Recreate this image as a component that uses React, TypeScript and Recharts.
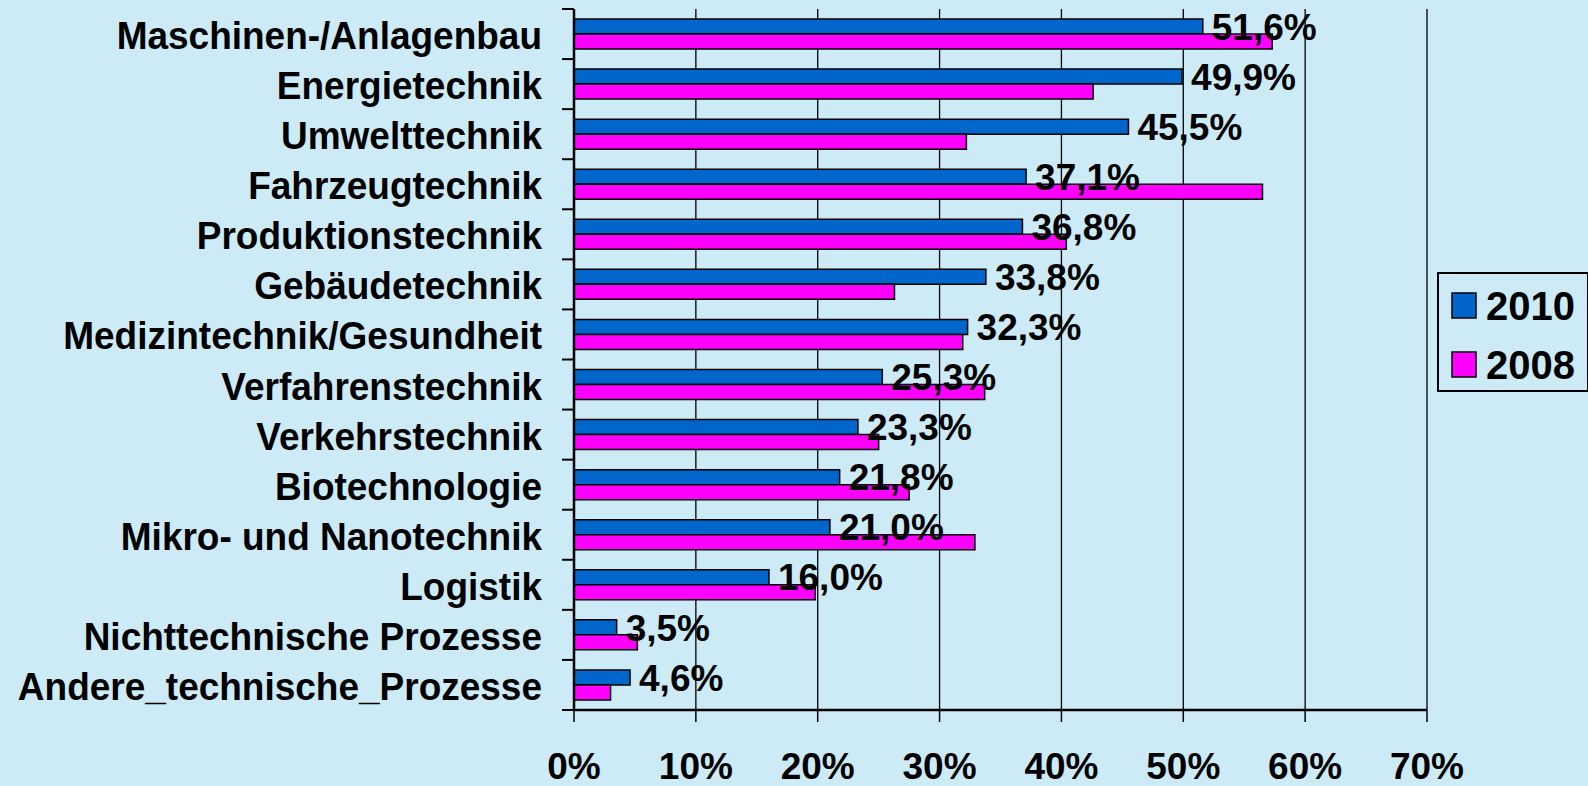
import React from 'react';
import { BarChart, Bar, XAxis, YAxis, CartesianGrid, LabelList } from 'recharts';

const categories = [
  'Maschinen-/Anlagenbau',
  'Energietechnik',
  'Umwelttechnik',
  'Fahrzeugtechnik',
  'Produktionstechnik',
  'Gebäudetechnik',
  'Medizintechnik/Gesundheit',
  'Verfahrenstechnik',
  'Verkehrstechnik',
  'Biotechnologie',
  'Mikro- und Nanotechnik',
  'Logistik',
  'Nichttechnische Prozesse',
  'Andere_technische_Prozesse',
];
const values2010 = [51.6, 49.9, 45.5, 37.1, 36.8, 33.8, 32.3, 25.3, 23.3, 21.8, 21.0, 16.0, 3.5, 4.6];
const values2008 = [57.3, 42.6, 32.2, 56.5, 40.4, 26.3, 31.9, 33.7, 25.0, 27.5, 32.9, 19.8, 5.2, 3.0];
const xTicks = [0, 10, 20, 30, 40, 50, 60, 70];
const seriesNames = ['2010', '2008'];
const seriesColors = ['#0066CC', '#FF00FF'];

const data = categories.map((name, i) => ({ name, v2010: values2010[i], v2008: values2008[i] }));

const W = 1588;
const H = 786;
const M_TOP = 9;
const X_AXIS_H = 76;
const Y_AXIS_W = 574;
const PLOT_H = H - M_TOP - X_AXIS_H;
const BAND = PLOT_H / categories.length;
const TICK_GAP = 32;
const FONT = '"Liberation Sans", Arial, sans-serif';
const BG = '#CCEBF6';

const YTick = (props: any) => {
  const { x, y, payload, index } = props;
  const axisX = x + TICK_GAP;
  const isLast = index === categories.length - 1;
  return (
    <g>
      <line x1={axisX - 12} x2={axisX} y1={y - BAND / 2} y2={y - BAND / 2} stroke="#000" strokeWidth={2} />
      {isLast && (
        <line x1={axisX - 12} x2={axisX} y1={y + BAND / 2} y2={y + BAND / 2} stroke="#000" strokeWidth={2} />
      )}
      <text
        x={x}
        y={y}
        dy={14}
        textAnchor="end"
        fontFamily={FONT}
        fontWeight="bold"
        fontSize={37}
        fill="#000"
        transform={`translate(0 ${y}) scale(1 1.07) translate(0 ${-y})`}
      >
        {payload.value}
      </text>
    </g>
  );
};

const LegendBox = () => (
  <svg width={152} height={120} style={{ display: 'block' }}>
    <rect x={1} y={1} width={150} height={118} fill={BG} stroke="#000" strokeWidth={2} />
    {seriesNames.map((label, i) => (
      <g key={label}>
        <rect x={15} y={21 + i * 59} width={24} height={25} fill={seriesColors[i]} stroke="#000" strokeWidth={1.5} />
        <text x={49} y={48 + i * 59} fontFamily={FONT} fontWeight="bold" fontSize={40} fill="#000">
          {label}
        </text>
      </g>
    ))}
  </svg>
);

export default function App() {
  if (typeof document !== 'undefined') {
    document.body.style.margin = '0';
  }
  return (
    <div style={{ position: 'fixed', left: 0, top: 0, width: W, height: H, background: BG }}>
      <BarChart
        width={W}
        height={H}
        data={data}
        layout="vertical"
        margin={{ top: M_TOP, right: W - 1427, bottom: 0, left: 0 }}
        barCategoryGap="20%"
        barGap={0}
      >
        <CartesianGrid horizontal={false} vertical={true} stroke="#000" strokeWidth={1.3} />
        <XAxis
          type="number"
          domain={[0, 70]}
          ticks={xTicks}
          interval={0}
          height={X_AXIS_H}
          tickFormatter={(v: number) => `${v}%`}
          tickSize={12}
          tickMargin={31}
          axisLine={{ stroke: '#000', strokeWidth: 2.5 }}
          tickLine={{ stroke: '#000', strokeWidth: 1.5 }}
          tick={{ fill: '#000', fontFamily: FONT, fontWeight: 'bold', fontSize: 37 }}
        />
        <XAxis
          xAxisId="top"
          orientation="top"
          type="number"
          domain={[0, 70]}
          height={0}
          tick={false}
          tickLine={false}
          axisLine={{ stroke: '#000', strokeWidth: 2 }}
        />
        <YAxis
          type="category"
          dataKey="name"
          width={Y_AXIS_W}
          interval={0}
          tickSize={0}
          tickMargin={TICK_GAP}
          tickLine={false}
          axisLine={{ stroke: '#000', strokeWidth: 2.5 }}
          tick={<YTick />}
        />
        <Bar dataKey="v2010" name={seriesNames[0]} fill={seriesColors[0]} stroke="#000" strokeWidth={1.5} isAnimationActive={false}>
          <LabelList
            dataKey="v2010"
            position="right"
            offset={9}
            formatter={(v: any) => `${Number(v).toFixed(1).replace('.', ',')}%`}
            style={{ fill: '#000', fontFamily: FONT, fontWeight: 'bold', fontSize: 37 }}
          />
        </Bar>
        <Bar dataKey="v2008" name={seriesNames[1]} fill={seriesColors[1]} stroke="#000" strokeWidth={1.5} isAnimationActive={false} />
      </BarChart>
      <div style={{ position: 'absolute', left: 1437, top: 272 }}>
        <LegendBox />
      </div>
    </div>
  );
}
